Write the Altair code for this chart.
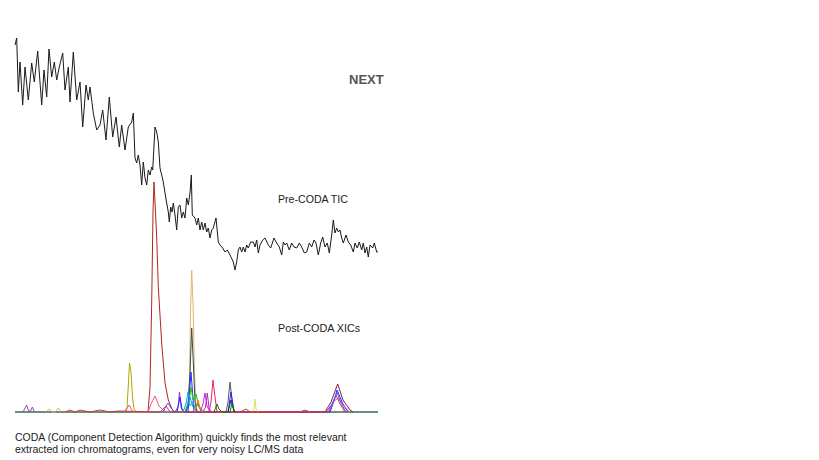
import altair as alt
import pandas as pd

# ---------------- data ----------------
# Pre-CODA TIC (retention time in arbitrary units, intensity in arbitrary units)
tic_time = [
    15, 16.7, 18.3, 20, 22.7, 25, 28.3, 31.7, 34.3, 37.7,
    41.7, 44, 46.7, 49, 51.7, 54.3, 56.7, 59.3, 62.7, 65,
    68.3, 70, 73.3, 76.7, 80, 82.7, 86, 88.3, 90, 93.3,
    96.7, 100, 102.7, 106, 109.3, 112.7, 116, 119.3, 121.7, 125,
    128.3, 131.7, 133.3, 135, 136.7, 138.3, 140, 141.7, 143.3, 145,
    146.7, 148.3, 150, 151.7, 152.7, 155, 156.7, 158.3, 160, 161.7,
    163.3, 165, 166.7, 168.3, 169.3, 170.7, 172, 173.3, 175, 176.7,
    178.3, 180, 181.7, 183.3, 185, 186.7, 188.3, 190, 191.3, 192.3,
    195, 196.7, 198.3, 200, 201.7, 203.3, 205, 206.7, 208.3, 210,
    211.7, 213.3, 216, 218.3, 220, 222.7, 225, 227.3, 230, 233.3,
    235, 236.7, 238.3, 240, 241.7, 243.3, 245, 246.7, 248.3, 250.7,
    253.3, 255, 256.7, 258.3, 260, 262.7, 265, 268.3, 270.7, 274,
    276.7, 279.3, 281.7, 283.3, 285, 286.7, 289.3, 291.7, 294, 296.7,
    299.3, 301.7, 304.3, 306.7, 309.3, 311.7, 314, 316, 318.3, 320.7,
    322.7, 325, 327.3, 329.3, 331.7, 333.3, 335, 336.7, 338.3, 340,
    341.7, 343.3, 346, 348.3, 350.7, 353.3, 355, 357.3, 359.3, 361.7,
    363.3, 365, 366.7, 368.3, 370, 372.7, 374.3, 376.7, 378,
]
tic_intensity = [
    367, 374, 320, 350, 307, 345, 312, 349, 330, 361,
    307, 342, 315, 363, 335, 350, 332, 345, 359, 322,
    345, 310, 360, 312, 330, 285, 327, 312, 325, 299,
    282, 287, 302, 272, 315, 275, 295, 265, 287, 262,
    285, 290, 299, 254, 249, 257, 247, 227, 250, 234,
    227, 242, 237, 245, 242, 285, 280, 270, 244, 237,
    230, 219, 209, 200, 190, 205, 200, 209, 197, 182,
    205, 207, 194, 200, 194, 214, 207, 219, 237, 197,
    194, 187, 194, 182, 190, 182, 189, 180, 184, 174,
    182, 184, 194, 170, 167, 164, 160, 162, 157, 150,
    142, 150, 162, 165, 160, 165, 160, 167, 164, 170,
    170, 165, 172, 159, 167, 172, 174, 167, 164, 174,
    169, 165, 157, 170, 167, 169, 162, 169, 165, 164,
    169, 165, 159, 160, 169, 165, 172, 169, 157, 169,
    175, 165, 169, 159, 177, 192, 179, 184, 180, 182,
    174, 169, 177, 170, 167, 160, 169, 164, 170, 162,
    169, 159, 165, 155, 167, 164, 169, 160, 160,
]

# Post-CODA XICs: one (times, intensities) pair per extracted ion chromatogram
xic_times = [
    [15, 378],
    [124, 127, 128.5, 129.5, 131, 132.5, 134, 136],
    [148, 150, 151.7, 153, 154, 156.7, 158.3, 161.7, 165, 168.3, 172, 175],
    [125, 129, 133, 148, 151, 155, 159, 163, 167],
    [186, 188, 189.5, 190.5, 191.7, 193, 194.5, 196, 198],
    [186, 188, 190, 191.7, 193.5, 195, 197],
    [209, 211, 213, 215, 217],
    [226, 228, 230, 232, 234],
    [175, 178, 179.5, 181, 183, 203, 205.5, 207.3, 209, 211],
    [177, 180, 182, 185, 188, 191, 194, 228, 231, 234, 330, 335, 337, 343, 348],
    [325, 331, 337.7, 343, 350, 353],
    [195, 198, 201, 326, 332, 336, 340, 345],
    [23, 26.7, 28.5, 30.5, 32.3, 34.5],
    [185, 189, 191, 193, 196, 199, 202],
    [252, 254, 255, 256, 258],
    [46, 49.3, 52, 55, 58.3, 61],
    [185, 190, 193, 197, 201, 205],
    [200, 203, 205, 207, 210],
    [228, 231, 233, 235],
    [328, 333, 338, 344, 349],
    [65, 70, 75, 80, 90, 100, 110, 118, 160, 166, 170, 240, 246, 250, 300, 305, 310],
    [183, 186, 188, 190, 193, 196],
    [195, 198, 200, 203],
    [214, 217, 219, 222, 230, 232, 234],
    [329, 334, 337, 341, 346],
    [163, 166, 168, 171, 174],
]
xic_values = [
    [0, 0],
    [0, 4, 30, 49, 40, 15, 3, 0],
    [0, 25, 109, 200, 230, 175, 125, 69, 29, 12, 3, 0],
    [0, 7, 0, 0, 8, 16, 6, 2, 0],
    [0, 8, 30, 100, 142, 110, 40, 5, 0],
    [0, 6, 40, 84, 45, 10, 0],
    [0, 10, 32, 15, 0],
    [0, 10, 30, 12, 0],
    [0, 5, 20, 5, 0, 0, 5, 19, 4, 0],
    [0, 15, 3, 0, 0, 40, 0, 0, 20, 0, 0, 14, 22, 8, 0],
    [0, 10, 28, 12, 2, 0],
    [0, 10, 0, 0, 8, 17, 8, 0],
    [0, 7, 1, 1, 5, 0],
    [0, 10, 25, 12, 18, 5, 0],
    [0, 3, 13, 3, 0],
    [0, 3, 0, 0, 4, 0],
    [0, 15, 5, 8, 3, 0],
    [0, 8, 19, 6, 0],
    [0, 12, 5, 0],
    [0, 10, 14, 6, 0],
    [0, 2, 0, 2, 0, 2, 0, 1, 0, 6, 0, 0, 3, 0, 0, 2, 0],
    [0, 8, 20, 6, 10, 0],
    [0, 12, 4, 0],
    [0, 8, 3, 0, 0, 9, 0],
    [0, 12, 20, 9, 0],
    [0, 6, 9, 4, 0],
]
xic_names = [f"XIC {i:02d}" for i in range(1, len(xic_times) + 1)]
xic_colors = [
    "#6f8f78", "#b0a800", "#b0281c", "#ff4d88", "#e6b466", "#2f4f4f",
    "#e8246c", "#5a5a5a", "#9b30d0", "#2828ff", "#7a2050", "#ff2020",
    "#a040c0", "#20c020", "#e0e060", "#c8b878", "#1a9a9a", "#d020d0",
    "#202080", "#cc44cc", "#c04040", "#00a0ff", "#ff8000", "#008000",
    "#4060ff", "#8040ff",
]

label_next = "NEXT"
label_pre = "Pre-CODA TIC"
label_post = "Post-CODA XICs"
caption_lines = [
    "CODA (Component Detection Algorithm) quickly finds the most relevant",
    "extracted ion chromatograms, even for very noisy LC/MS data",
]

# ---------------- tables ----------------
tic_df = pd.DataFrame({"time": tic_time, "intensity": tic_intensity})
rows = []
for name, ts, vs in zip(xic_names, xic_times, xic_values):
    for i, (t, v) in enumerate(zip(ts, vs)):
        rows.append({"xic": name, "time": t, "intensity": v, "i": i})
xic_df = pd.DataFrame(rows)

FONT = "Liberation Sans"
x_scale = alt.Scale(domain=[15, 378], nice=False, zero=False)
y_scale = alt.Scale(domain=[0, 374], nice=False)

tic = alt.Chart(tic_df).mark_line(color="#1a1a1a", strokeWidth=1).encode(
    x=alt.X("time:Q", scale=x_scale, axis=None),
    y=alt.Y("intensity:Q", scale=y_scale, axis=None),
)

baseline = alt.Chart(xic_df[xic_df["xic"] == xic_names[0]]).mark_line(
    color=xic_colors[0], strokeWidth=2
).encode(
    x=alt.X("time:Q", scale=x_scale, axis=None),
    y=alt.Y("intensity:Q", scale=y_scale, axis=None),
)

xics = alt.Chart(xic_df[xic_df["xic"] != xic_names[0]]).mark_line(strokeWidth=1).encode(
    x=alt.X("time:Q", scale=x_scale, axis=None),
    y=alt.Y("intensity:Q", scale=y_scale, axis=None),
    color=alt.Color("xic:N", scale=alt.Scale(domain=xic_names, range=xic_colors), legend=None),
    order="i:Q",
)


def text_layer(txt, x, y, size, weight="normal", color="#222222"):
    return alt.Chart(pd.DataFrame({"t": [txt]})).mark_text(
        font=FONT, fontSize=size, fontWeight=weight, color=color,
        align="left", baseline="middle",
    ).encode(text="t:N", x=alt.value(x), y=alt.value(y))


texts = [
    text_layer(label_next, 334, 42, 13, "bold", "#555555"),
    text_layer(label_pre, 263, 162, 10.6),
    text_layer(label_post, 263, 291, 10.8),
    text_layer(caption_lines[0], 0, 400, 10.5),
    text_layer(caption_lines[1], 0, 412, 10.5),
]

chart = alt.layer(baseline, xics, tic, *texts).properties(
    width=363,
    height=374,
    autosize=alt.AutoSizeParams(type="none"),
    padding={"left": 7, "top": 30, "right": 433, "bottom": 44},
).configure_view(stroke=None)

chart.save("out.html", embed_options={"renderer": "svg", "actions": False})
